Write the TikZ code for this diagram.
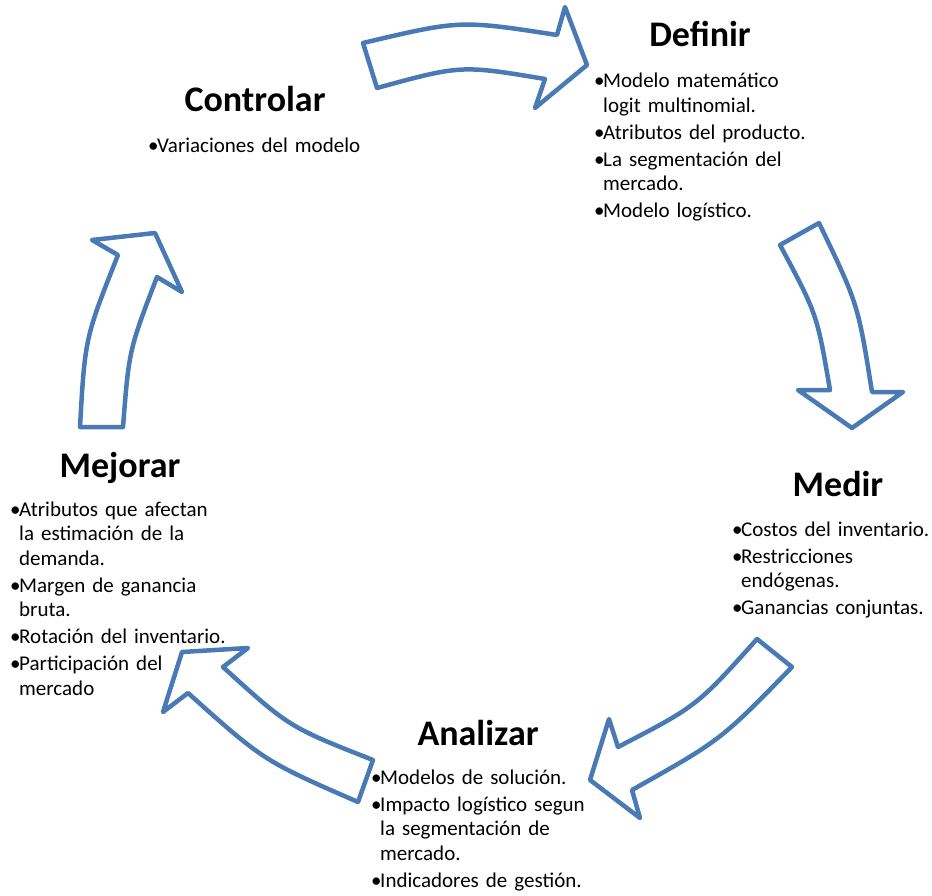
\documentclass[tikz,border=0pt]{standalone}
\usepackage{fontspec}
\setmainfont{Carlito}
\usetikzlibrary{positioning}
\definecolor{cycblue}{HTML}{4A7AB4}
\newcommand{\cycitem}[1]{\setlength{\parskip}{2.5pt}\hangindent=9pt\hangafter=1\noindent\hbox to 9pt{\textbullet\hss}#1\par}

\begin{document}
\begin{tikzpicture}[x=1pt,y=-1pt,
  stage/.style={font=\fontsize{36}{43}\selectfont\bfseries,inner sep=0pt,anchor=base},
  items/.style={font=\fontsize{21}{24.5}\selectfont,text width=240pt,align=left,inner sep=0pt,anchor=base west},
  cyc/.style={draw=cycblue,line width=4.5pt,fill=white,line join=round}]
  \useasboundingbox (0,0) rectangle (932,896);
  % curved block arrows of the cycle
  \draw[cyc] (363,43) -- (377,88) .. controls (461,65) .. (545,79) -- (535,108) -- (587,65)
    -- (565,7) -- (557,35) .. controls (460,20) .. (363,43) -- cycle;
  \draw[cyc] (780,245) -- (819,223) .. controls (858,304) .. (872,392) -- (903,392) -- (852,428)
    -- (798,390) -- (830,390) .. controls (817,314) .. (780,245) -- cycle;
  \draw[cyc] (757,639) -- (792,667) .. controls (721,740) .. (632,790) -- (640,818) -- (590,780)
    -- (609,719) -- (618,747) .. controls (697,706) .. (757,639) -- cycle;
  \draw[cyc] (373,760) -- (358,802) .. controls (264,761) .. (188,693) -- (163,712) -- (182,652)
    -- (248,648) -- (223,667) .. controls (289,727) .. (373,760) -- cycle;
  \draw[cyc] (80,427) -- (123,427) .. controls (129,350) .. (157,277) -- (182,292) -- (155,233)
    -- (92,240) -- (118,255) .. controls (85,338) .. (80,427) -- cycle;
  % stage titles
  \node[stage] (definir) at (700,47) {Definir};
  \node[stage] (medir) at (838,496) {Medir};
  \node[stage] (analizar) at (478,745) {Analizar};
  \node[stage] (mejorar) at (120,477) {Mejorar};
  \node[stage] (controlar) at (255,112) {Controlar};
  % bullet lists
  \node[items] (definir-list) at (594,88) {%
    \cycitem{Modelo matemático\newline logit multinomial.}
    \cycitem{Atributos del producto.}
    \cycitem{La segmentación del\newline mercado.}
    \cycitem{Modelo logístico.}};
  \node[items] (medir-list) at (732,536) {%
    \cycitem{Costos del inventario.}
    \cycitem{Restricciones\newline endógenas.}
    \cycitem{Ganancias conjuntas.}};
  \node[items] (analizar-list) at (371,784) {%
    \cycitem{Modelos de solución.}
    \cycitem{Impacto logístico segun\newline la segmentación de\newline mercado.}
    \cycitem{Indicadores de gestión.}};
  \node[items] (mejorar-list) at (10,516) {%
    \cycitem{Atributos que afectan\newline la estimación de la\newline demanda.}
    \cycitem{Margen de ganancia\newline bruta.}
    \cycitem{Rotación del inventario.}
    \cycitem{Participación del\newline mercado}};
  \node[items] (controlar-list) at (148,153) {%
    \cycitem{Variaciones del modelo}};
\end{tikzpicture}
\end{document}
